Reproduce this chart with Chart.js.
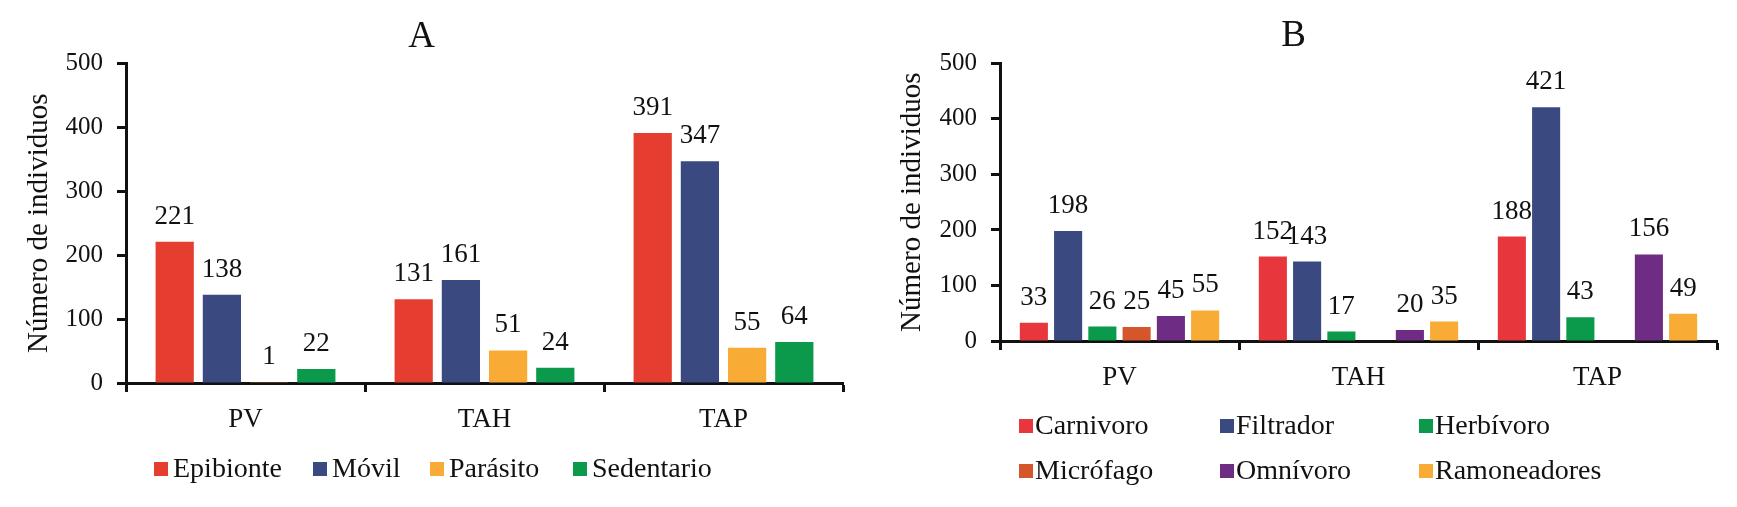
<!DOCTYPE html>
<html><head><meta charset="utf-8">
<script src="https://cdn.jsdelivr.net/npm/chart.js@4.4.1/dist/chart.umd.min.js"></script>
<style>
html,body{margin:0;padding:0;background:#fff;}
#wrap{position:relative;width:1737px;height:507px;background:#fff;}
.c{position:absolute;top:0;height:507px;}
</style></head><body>
<div id="wrap">
<div class="c" style="left:0;width:870px"><canvas id="cA" width="870" height="507"></canvas></div>
<div class="c" style="left:870px;width:867px"><canvas id="cB" width="867" height="507"></canvas></div>
</div>
<script>
// ---- data ----
const categories = ['PV', 'TAH', 'TAP'];
const yTicks = [0, 100, 200, 300, 400, 500];
const yTitle = 'Número de individuos';

const labelsA = ['Epibionte', 'Móvil', 'Parásito', 'Sedentario'];
const epibionte = [221, 131, 391];
const movil = [138, 161, 347];
const parasito = [1, 51, 55];
const sedentario = [22, 24, 64];

const labelsB = ['Carnivoro', 'Filtrador', 'Herbívoro', 'Micrófago', 'Omnívoro', 'Ramoneadores'];
const carnivoro = [33, 152, 188];
const filtrador = [198, 143, 421];
const herbivoro = [26, 17, 43];
const microfago = [25, 0, 0];
const omnivoro = [45, 20, 156];
const ramoneadores = [55, 35, 49];

// ---- styles ----
const FONT = "'Liberation Serif', 'Times New Roman', serif";
const INK = '#111';
const colorsA = ['#E53D2F', '#3A4A80', '#F8AC35', '#0B9A4B'];
const colorsB = ['#E8363D', '#3A4A80', '#0B9A4B', '#D5562A', '#6F2C84', '#F8AC35'];

const valueLabels = {
  id: 'valueLabels',
  afterDatasetsDraw(chart) {
    const ctx = chart.ctx;
    ctx.save();
    ctx.font = '27px ' + FONT;
    ctx.fillStyle = INK;
    ctx.textAlign = 'center';
    ctx.textBaseline = 'alphabetic';
    chart.data.datasets.forEach((ds, i) => {
      const meta = chart.getDatasetMeta(i);
      meta.data.forEach((el, j) => {
        const v = ds.data[j];
        if (!v) return;
        ctx.fillText(String(v), el.x, el.y - 18);
      });
    });
    ctx.restore();
  }
};

const gridLegend = {
  id: 'gridLegend',
  afterDraw(chart, args, opts) {
    const ctx = chart.ctx;
    ctx.save();
    ctx.font = '28px ' + FONT;
    ctx.textBaseline = 'middle';
    ctx.textAlign = 'left';
    opts.rows.forEach((row, r) => {
      row.forEach((di, c) => {
        const ds = chart.data.datasets[di];
        const x = opts.xs[c], y = opts.ys[r];
        ctx.fillStyle = ds.backgroundColor;
        ctx.fillRect(x, y - 7, 14, 14);
        ctx.fillStyle = INK;
        ctx.fillText(ds.label, x + opts.gap, y + 1);
      });
    });
    ctx.restore();
  }
};

function makeOptions(cfg) {
  return {
    responsive: false,
    animation: false,
    layout: { padding: { top: 0, right: cfg.padRight, bottom: 0, left: 0 } },
    datasets: { bar: { categoryPercentage: cfg.catPct, barPercentage: cfg.barPct } },
    plugins: {
      legend: { display: false },
      tooltip: { enabled: false },
      title: {
        display: true, text: cfg.title, color: INK,
        font: { family: FONT, size: 37, weight: 'normal', lineHeight: 1.2 },
        padding: { top: cfg.titleTop, bottom: cfg.titleBottom }
      },
      gridLegend: cfg.legend
    },
    scales: {
      x: {
        offset: true,
        grid: { display: true, offset: true, drawOnChartArea: false, drawTicks: true, tickLength: 9, tickWidth: 3, tickColor: INK },
        border: { display: true, color: INK, width: 3 },
        ticks: { color: INK, font: { family: FONT, size: 27 }, padding: cfg.xPad },
        afterFit: s => { s.height = cfg.xHeight; }
      },
      y: {
        min: 0, max: 500,
        afterBuildTicks: s => { s.ticks = yTicks.map(v => ({ value: v })); },
        grid: { display: true, drawOnChartArea: false, drawTicks: true, tickLength: 9, tickWidth: 3, tickColor: INK },
        border: { display: true, color: INK, width: 3 },
        ticks: { color: INK, font: { family: FONT, size: 25 }, padding: 14 },
        title: { display: true, text: yTitle, color: INK, font: { family: FONT, size: 29, lineHeight: 1.2 }, padding: { top: cfg.yTitleTop, bottom: 0 } },
        afterFit: s => { s.width = cfg.yWidth; }
      }
    }
  };
}

function mkSets(labels, arrays, colors) {
  return arrays.map((d, i) => ({ label: labels[i], data: d, backgroundColor: colors[i], borderWidth: 0 }));
}

new Chart(document.getElementById('cA'), {
  type: 'bar',
  data: { labels: categories, datasets: mkSets(labelsA, [epibionte, movil, parasito, sedentario], colorsA) },
  options: makeOptions({
    title: 'A', titleTop: 15, titleBottom: 4, padRight: 27,
    xHeight: 124, xPad: 12, yWidth: 126, yTitleTop: 22,
    catPct: 0.79, barPct: 0.81,
    legend: { rows: [[0, 1, 2, 3]], xs: [154, 313, 430, 573], ys: [469], gap: 19 }
  }),
  plugins: [valueLabels, gridLegend]
});

new Chart(document.getElementById('cB'), {
  type: 'bar',
  data: { labels: categories, datasets: mkSets(labelsB, [carnivoro, filtrador, herbivoro, microfago, omnivoro, ramoneadores], colorsB) },
  options: makeOptions({
    title: 'B', titleTop: 14, titleBottom: 5, padRight: 20,
    xHeight: 166, xPad: 12, yWidth: 130, yTitleTop: 25,
    catPct: 0.86, barPct: 0.82,
    legend: { rows: [[0, 1, 2], [3, 4, 5]], xs: [149, 350, 549], ys: [426, 471], gap: 16 }
  }),
  plugins: [valueLabels, gridLegend]
});
</script>
</body></html>
